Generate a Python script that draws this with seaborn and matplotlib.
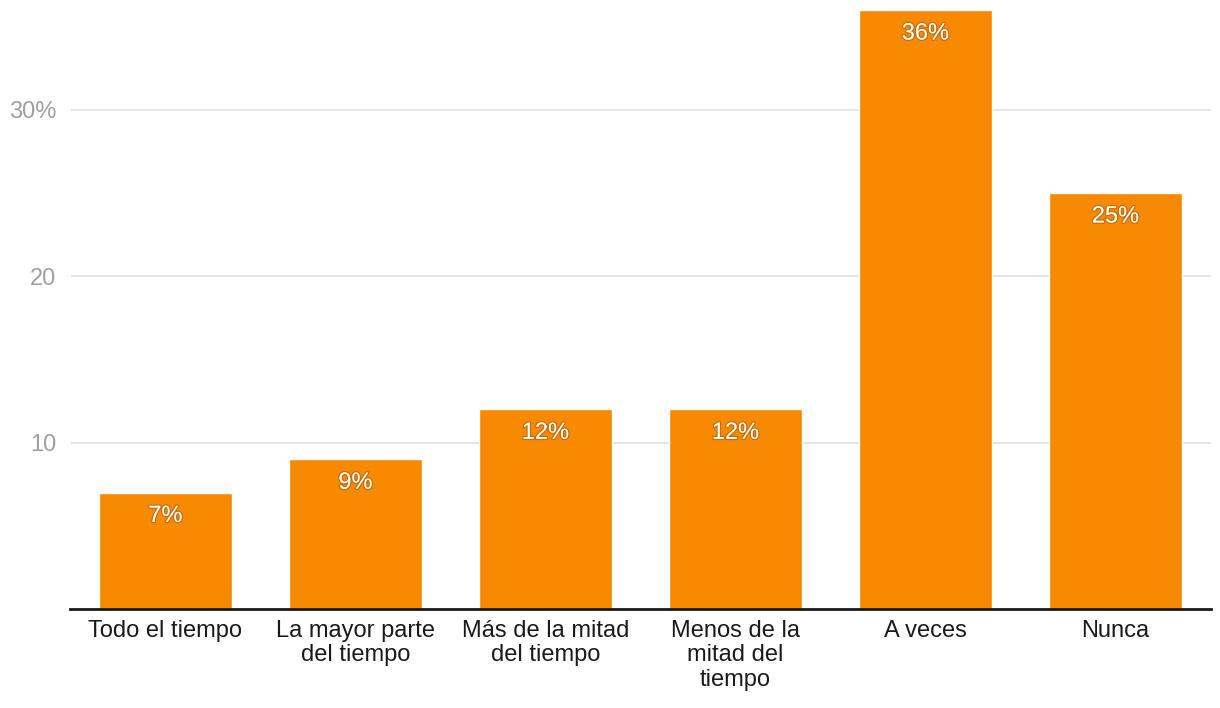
import matplotlib
matplotlib.use("Agg")
import matplotlib.pyplot as plt
import matplotlib.patheffects as pe
import seaborn as sns
import pandas as pd

categorias = ["Todo el tiempo", "La mayor parte\ndel tiempo", "Más de la mitad\ndel tiempo",
              "Menos de la\nmitad del\ntiempo", "A veces", "Nunca"]
valores = [7, 9, 12, 12, 36, 25]
ticks_y = [10, 20, 30]
etiquetas_y = ["10", "20", "30%"]

df = pd.DataFrame({"categoria": categorias, "valor": valores})

sns.set_theme(style="white")
plt.rcParams["font.family"] = ["Liberation Sans", "DejaVu Sans"]

fig = plt.figure(figsize=(12.2, 7.08), dpi=100)
ax = fig.add_axes([70.5 / 1220, 99 / 708, 1140 / 1220, 599 / 708])

sns.barplot(data=df, x="categoria", y="valor", color="#f78a00", saturation=1,
            width=0.7, ax=ax, zorder=2)

ax.set_ylim(0, 36)
ax.set_xlim(-0.5, len(categorias) - 0.5)
ax.set_yticks(ticks_y)
ax.set_yticklabels(etiquetas_y)
ax.yaxis.grid(True, color="#e0e0e0", linewidth=1.2, zorder=0)
ax.set_axisbelow(True)
for lado in ["top", "right", "left"]:
    ax.spines[lado].set_visible(False)
ax.spines["bottom"].set_color("#1a1a1a")
ax.spines["bottom"].set_linewidth(2)
ax.spines["bottom"].set_zorder(3)
ax.set_xlabel("")
ax.set_ylabel("")
ax.tick_params(axis="y", length=0, pad=10, labelsize=17, labelcolor="#a0a0a0")
ax.tick_params(axis="x", length=0, pad=8, labelsize=17, labelcolor="#1a1a1a")
for t in ax.get_xticklabels():
    t.set_linespacing(1.13)
    t.set_verticalalignment("top")

for i, v in enumerate(valores):
    ax.annotate(f"{v}%", xy=(i, v), xytext=(0, -9), textcoords="offset points",
                ha="center", va="top", color="white", fontsize=17,
                path_effects=[pe.withStroke(linewidth=1.8, foreground=(0.45, 0.2, 0, 0.35))])

fig.savefig("out.png", dpi=100)
